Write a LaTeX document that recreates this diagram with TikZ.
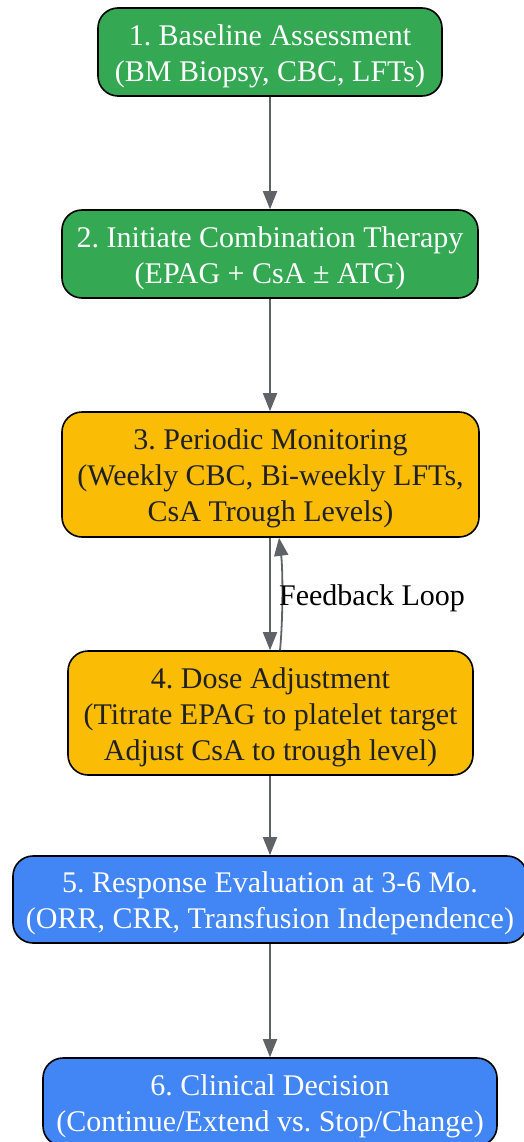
\documentclass[tikz,border=0pt]{standalone}
\usepackage{fontspec}
\setmainfont{Liberation Serif}
\usetikzlibrary{arrows.meta}
\definecolor{gGreen}{HTML}{34A853}
\definecolor{gYellow}{HTML}{FBBC05}
\definecolor{gBlue}{HTML}{4285F4}
\definecolor{gGray}{HTML}{5F6368}
\definecolor{dText}{HTML}{202124}
\newcommand\topstrut{\rule{0pt}{29pt}}
\frenchspacing
\begin{document}
\begin{tikzpicture}[x=1pt,y=-1pt,
  box/.style={draw=black,line width=1.6pt,rounded corners=20pt,align=center,
    inner sep=0pt,font=\fontsize{30}{36}\selectfont\frenchspacing},
  greenbox/.style={box,fill=gGreen,text=white},
  yellowbox/.style={box,fill=gYellow,text=dText},
  bluebox/.style={box,fill=gBlue,text=white},
  conn/.style={draw=gGray,line width=1.8pt,-{Triangle[length=18pt,width=14pt]}}]
\useasboundingbox (0,0) rectangle (523,1142);
\node[greenbox,minimum width=344pt,minimum height=88pt] (n1) at (270,52)
  {\topstrut 1. Baseline Assessment\\(BM Biopsy, CBC, LFTs)};
\node[greenbox,minimum width=416pt,minimum height=88pt] (n2) at (270,254)
  {\topstrut 2. Initiate Combination Therapy\\(EPAG + CsA ± ATG)};
\node[yellowbox,minimum width=417pt,minimum height=125pt] (n3) at (270.5,474.5)
  {\topstrut 3. Periodic Monitoring\\(Weekly CBC, Bi-weekly LFTs,\\CsA Trough Levels)};
\node[yellowbox,minimum width=405pt,minimum height=124pt] (n4) at (270.5,713)
  {\topstrut 4. Dose Adjustment\\(Titrate EPAG to platelet target\\Adjust CsA to trough level)};
\node[bluebox,minimum width=514pt,minimum height=87pt] (n5) at (270,899.5)
  {\topstrut 5. Response Evaluation at 3-6 Mo.\\(ORR, CRR, Transfusion Independence)};
\node[bluebox,minimum width=454pt,minimum height=88pt] (n6) at (270,1102)
  {\topstrut 6. Clinical Decision\\(Continue/Extend vs. Stop/Change)};
\draw[conn] (n1.south -| 270,0) -- (n2.north -| 270,0);
\draw[conn] (n2.south -| 270,0) -- (n3.north -| 270,0);
\draw[conn] (n3.south -| 270,0) -- (n4.north -| 270,0);
\draw[conn] (n4.north -| 280,0) .. controls (283,620) and (283,570) .. (n3.south -| 279,0);
\node[font=\fontsize{30}{36}\selectfont,inner sep=0pt] (fb) at (372,598) {Feedback Loop};
\draw[conn] (n4.south -| 270,0) -- (n5.north -| 270,0);
\draw[conn] (n5.south -| 270,0) -- (n6.north -| 270,0);
\end{tikzpicture}
\end{document}
